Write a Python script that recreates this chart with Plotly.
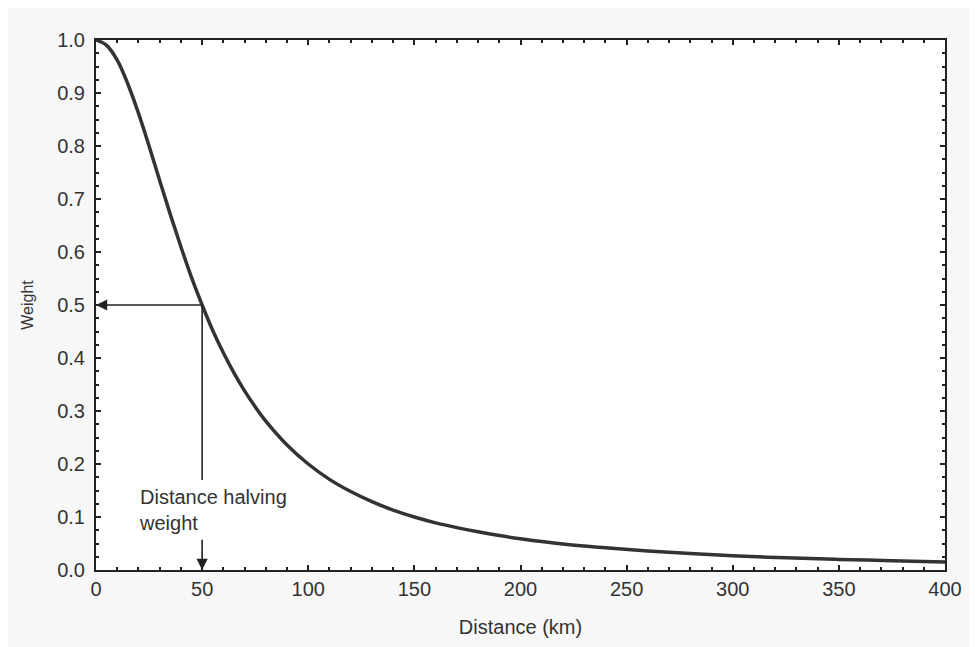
import plotly.graph_objects as go

# Data
distance_km = [0, 5, 10, 15, 20, 25, 30, 35, 40, 45, 50, 55, 60, 65, 70, 75, 80, 90,
               100, 110, 120, 130, 140, 150, 160, 170, 180, 190, 200, 220, 240, 260,
               280, 300, 325, 350, 375, 400]
weight = [1.0, 0.99, 0.962, 0.917, 0.862, 0.80, 0.735, 0.671, 0.61, 0.552, 0.5, 0.452,
          0.41, 0.372, 0.338, 0.308, 0.281, 0.236, 0.2, 0.171, 0.148, 0.129, 0.113, 0.1,
          0.089, 0.08, 0.072, 0.065, 0.059, 0.049, 0.042, 0.036, 0.031, 0.027, 0.023,
          0.02, 0.0175, 0.015]

half_distance = 50
half_weight = 0.5
annotation_text = "Distance halving<br>weight"
x_title = "Distance (km)"
y_title = "Weight"
x_ticks = [0, 50, 100, 150, 200, 250, 300, 350, 400]
y_ticks = [0.0, 0.1, 0.2, 0.3, 0.4, 0.5, 0.6, 0.7, 0.8, 0.9, 1.0]

FONT = "Liberation Sans, Arial, sans-serif"
TXT = "#333333"
AX = "#222222"

fig = go.Figure()
fig.add_trace(go.Scatter(x=distance_km, y=weight, mode="lines",
                         line=dict(color="#333333", width=3.5, shape="spline"),
                         showlegend=False, hoverinfo="skip"))

# vertical line from curve down
fig.add_shape(type="line", xref="x", yref="y", x0=half_distance, x1=half_distance,
              y0=half_weight, y1=0.17, line=dict(color="#222222", width=1.6))

# horizontal arrow to y axis
fig.add_annotation(x=0, y=half_weight, ax=half_distance, ay=half_weight,
                   xref="x", yref="y", axref="x", ayref="y", text="",
                   showarrow=True, arrowhead=2, arrowsize=1.4, arrowwidth=1.6,
                   arrowcolor="#222222")
# vertical arrow to x axis
fig.add_annotation(x=half_distance, y=0, ax=half_distance, ay=0.06,
                   xref="x", yref="y", axref="x", ayref="y", text="",
                   showarrow=True, arrowhead=2, arrowsize=1.4, arrowwidth=1.6,
                   arrowcolor="#222222")
fig.add_annotation(x=19.3, y=0.162, xref="x", yref="y", text=annotation_text,
                   showarrow=False, xanchor="left", yanchor="top", align="left",
                   font=dict(family=FONT, size=20, color=TXT))

axis_common = dict(showline=True, linecolor=AX, linewidth=2, mirror="ticks",
                   ticks="inside", tickcolor=AX, tickwidth=1.5, ticklen=5,
                   showgrid=False, zeroline=False,
                   tickfont=dict(family=FONT, size=20, color=TXT))

fig.update_xaxes(range=[0, 400], tickvals=x_ticks, ticktext=[str(v) for v in x_ticks],
                 minor=dict(dtick=10, ticks="inside", ticklen=3, tickcolor=AX, tickwidth=1.5),
                 title=dict(text=x_title, font=dict(family=FONT, size=20, color=TXT), standoff=21),
                 **axis_common)
fig.update_yaxes(range=[0, 1], tickvals=y_ticks, ticktext=[f"{v:.1f}" for v in y_ticks],
                 ticklabelstandoff=5,
                 minor=dict(dtick=0.025, ticks="inside", ticklen=3, tickcolor=AX, tickwidth=1.5),
                 title=dict(text=y_title, font=dict(family=FONT, size=16, color=TXT), standoff=20),
                 **axis_common)

fig.update_layout(width=977, height=647, margin=dict(l=88, r=40, t=32, b=85, autoexpand=False),
                  paper_bgcolor="#f7f7f7", plot_bgcolor="white",
                  font=dict(family=FONT, color=TXT))
fig.write_html("out.html")
